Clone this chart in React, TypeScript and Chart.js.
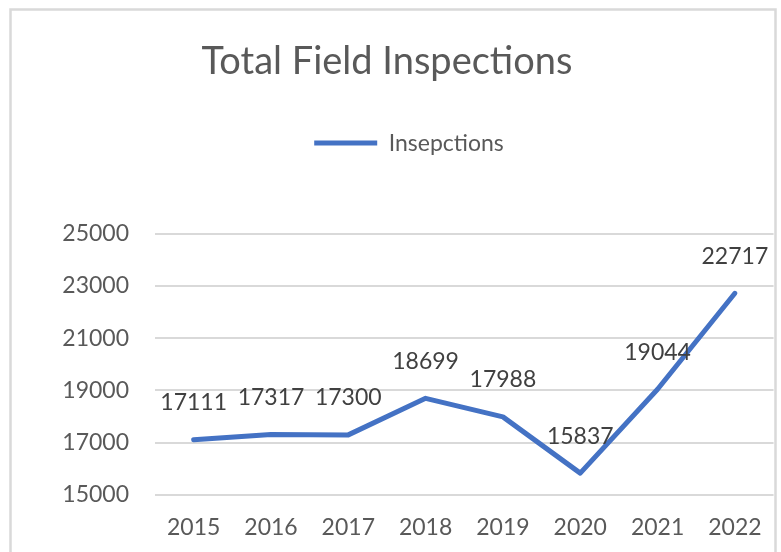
import React, { useEffect, useRef } from "react";
import { Chart, registerables } from "chart.js";

Chart.register(...registerables);

const years = ["2015", "2016", "2017", "2018", "2019", "2020", "2021", "2022"];
const inspections = [17111, 17317, 17300, 18699, 17988, 15837, 19044, 22717];
const titleText = "Total Field Inspections";
const seriesName = "Insepctions";
const yMin = 15000;
const yMax = 25000;
const yStep = 2000;

const FONT = "Lato, 'Open Sans', sans-serif";
const TEXT = "#595959";
const LABEL = "#404040";
const GRID = "#d9d9d9";
const BLUE = "#4472C4";

const framePlugin = {
  id: "frame",
  beforeDraw(chart: any) {
    const ctx = chart.ctx;
    ctx.save();
    ctx.fillStyle = "#ffffff";
    ctx.fillRect(0, 0, chart.width, chart.height);
    ctx.strokeStyle = GRID;
    ctx.lineWidth = 2.5;
    ctx.strokeRect(10.5, 9.5, 765, chart.height + 20);
    ctx.restore();
  },
};

const legendSpacer = {
  id: "legendSpacer",
  afterInit(chart: any) {
    const lg = chart.legend;
    if (lg && !lg._spaced) {
      const orig = lg.fit;
      lg.fit = function () {
        orig.call(this);
        this.height += 69;
      };
      lg._spaced = true;
    }
  },
  afterLayout(chart: any) {
    const lg = chart.legend;
    if (lg) {
      lg.left += 22;
      lg.right += 22;
    }
  },
};

const dataLabels = {
  id: "dataLabels",
  afterDatasetsDraw(chart: any) {
    const ctx = chart.ctx;
    const meta = chart.getDatasetMeta(0);
    const values = chart.data.datasets[0].data;
    ctx.save();
    ctx.font = `23px ${FONT}`;
    ctx.fillStyle = LABEL;
    ctx.textAlign = "center";
    ctx.textBaseline = "middle";
    meta.data.forEach((pt: any, i: number) => {
      ctx.fillText(String(values[i]), pt.x, pt.y - 37);
    });
    ctx.restore();
  },
};

export default function App() {
  const ref = useRef<HTMLCanvasElement | null>(null);

  useEffect(() => {
    document.body.style.margin = "0";
    if (!ref.current) return;
    const chart = new Chart(ref.current, {
      type: "line",
      data: {
        labels: years,
        datasets: [
          {
            label: seriesName,
            data: inspections,
            borderColor: BLUE,
            backgroundColor: BLUE,
            borderWidth: 5,
            borderCapStyle: "round",
            borderJoinStyle: "round",
            pointRadius: 0,
            pointHoverRadius: 0,
            tension: 0,
          },
        ],
      },
      options: {
        animation: false,
        responsive: false,
        devicePixelRatio: 1,
        layout: { padding: { left: 0, right: 7, top: 0, bottom: 0 } },
        plugins: {
          title: {
            display: true,
            text: titleText,
            color: TEXT,
            font: { family: FONT, size: 38, weight: "normal" },
            padding: { top: 39, bottom: 37 },
          },
          legend: {
            display: true,
            position: "top",
            labels: {
              usePointStyle: true,
              pointStyle: "line",
              pointStyleWidth: 63,
              color: TEXT,
              font: { family: FONT, size: 23 },
              padding: 10,
            },
          },
          tooltip: { enabled: false },
        },
        scales: {
          x: {
            offset: true,
            grid: { display: false, drawTicks: false },
            border: { display: false },
            ticks: {
              color: TEXT,
              font: { family: FONT, size: 23 },
              padding: 19,
              maxRotation: 0,
            },
            afterFit(scale: any) {
              scale.height = 57;
            },
          },
          y: {
            min: yMin,
            max: yMax,
            grid: { color: GRID, lineWidth: 2, drawTicks: false },
            border: { display: false },
            ticks: {
              stepSize: yStep,
              color: TEXT,
              font: { family: FONT, size: 23 },
              padding: 26,
              callback: (v: any) => String(v),
            },
            afterFit(scale: any) {
              scale.width = 155;
            },
          },
        },
      },
      plugins: [framePlugin, legendSpacer, dataLabels],
    } as any);
    return () => chart.destroy();
  }, []);

  return (
    <div style={{ width: 781, height: 552 }}>
      <canvas ref={ref} width={781} height={552} />
    </div>
  );
}
